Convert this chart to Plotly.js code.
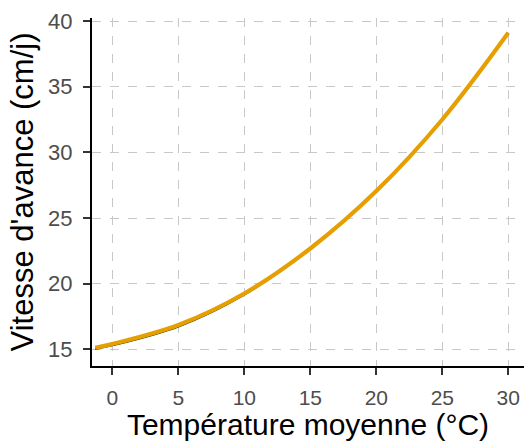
<!DOCTYPE html>
<html>
<head>
<meta charset="utf-8">
<script src="https://cdn.plot.ly/plotly-3.0.1.min.js"></script>
<style>html,body{margin:0;padding:0;background:#fff;}#chart{width:526px;height:441px;}</style>
</head>
<body>
<div id="chart"></div>
<script>
const temperature = [-1.3, 0, 5, 10, 15, 20, 25, 30];
const vitesse = [15.12, 15.4, 16.85, 19.25, 22.68, 27.05, 32.5, 39.1];
const vitesseModele = [15.02, 15.3, 16.74, 19.17, 22.65, 27.05, 32.5, 39.1];
const xTicks = [0, 5, 10, 15, 20, 25, 30];
const yTicks = [15, 20, 25, 30, 35, 40];

const traces = [
  {x: temperature, y: vitesseModele, mode: 'lines', line: {color: '#1f2a10', width: 2, shape: 'spline', smoothing: 1}, hoverinfo: 'skip'},
  {x: temperature, y: vitesse, mode: 'lines', line: {color: '#E69F00', width: 4.2, shape: 'spline', smoothing: 1}}
];

const font = 'Liberation Sans, Arial, sans-serif';
const layout = {
  width: 526, height: 441,
  margin: {l: 92, r: 2, t: 18, b: 75},
  paper_bgcolor: '#fff', plot_bgcolor: '#fff',
  showlegend: false,
  xaxis: {
    range: [-1.54, 31.19], tickvals: xTicks, ticktext: xTicks.map(String),
    showgrid: true, gridcolor: '#C8C8C8', griddash: 'dash', gridwidth: 1,
    zeroline: false, showline: true, linecolor: '#000', linewidth: 2,
    ticks: 'outside', ticklen: 7, tickwidth: 2, tickcolor: '#333',
    ticklabelstandoff: 5,
    tickfont: {family: font, size: 21, color: '#4D4D4D'},
    title: {text: 'Température moyenne (°C)', font: {family: font, size: 30, color: '#000'}, standoff: 11}
  },
  yaxis: {
    range: [13.73, 40.23], tickvals: yTicks, ticktext: yTicks.map(String),
    showgrid: true, gridcolor: '#C8C8C8', griddash: 'dash', gridwidth: 1,
    zeroline: false, showline: true, linecolor: '#000', linewidth: 2,
    ticks: 'outside', ticklen: 7, tickwidth: 2, tickcolor: '#333',
    ticklabelstandoff: 6,
    tickfont: {family: font, size: 22, color: '#4D4D4D'},
    title: {text: "Vitesse d'avance (cm/j)", font: {family: font, size: 31, color: '#000'}, standoff: 5}
  }
};
Plotly.newPlot('chart', traces, layout, {displayModeBar: false, staticPlot: true});
</script>
</body>
</html>
